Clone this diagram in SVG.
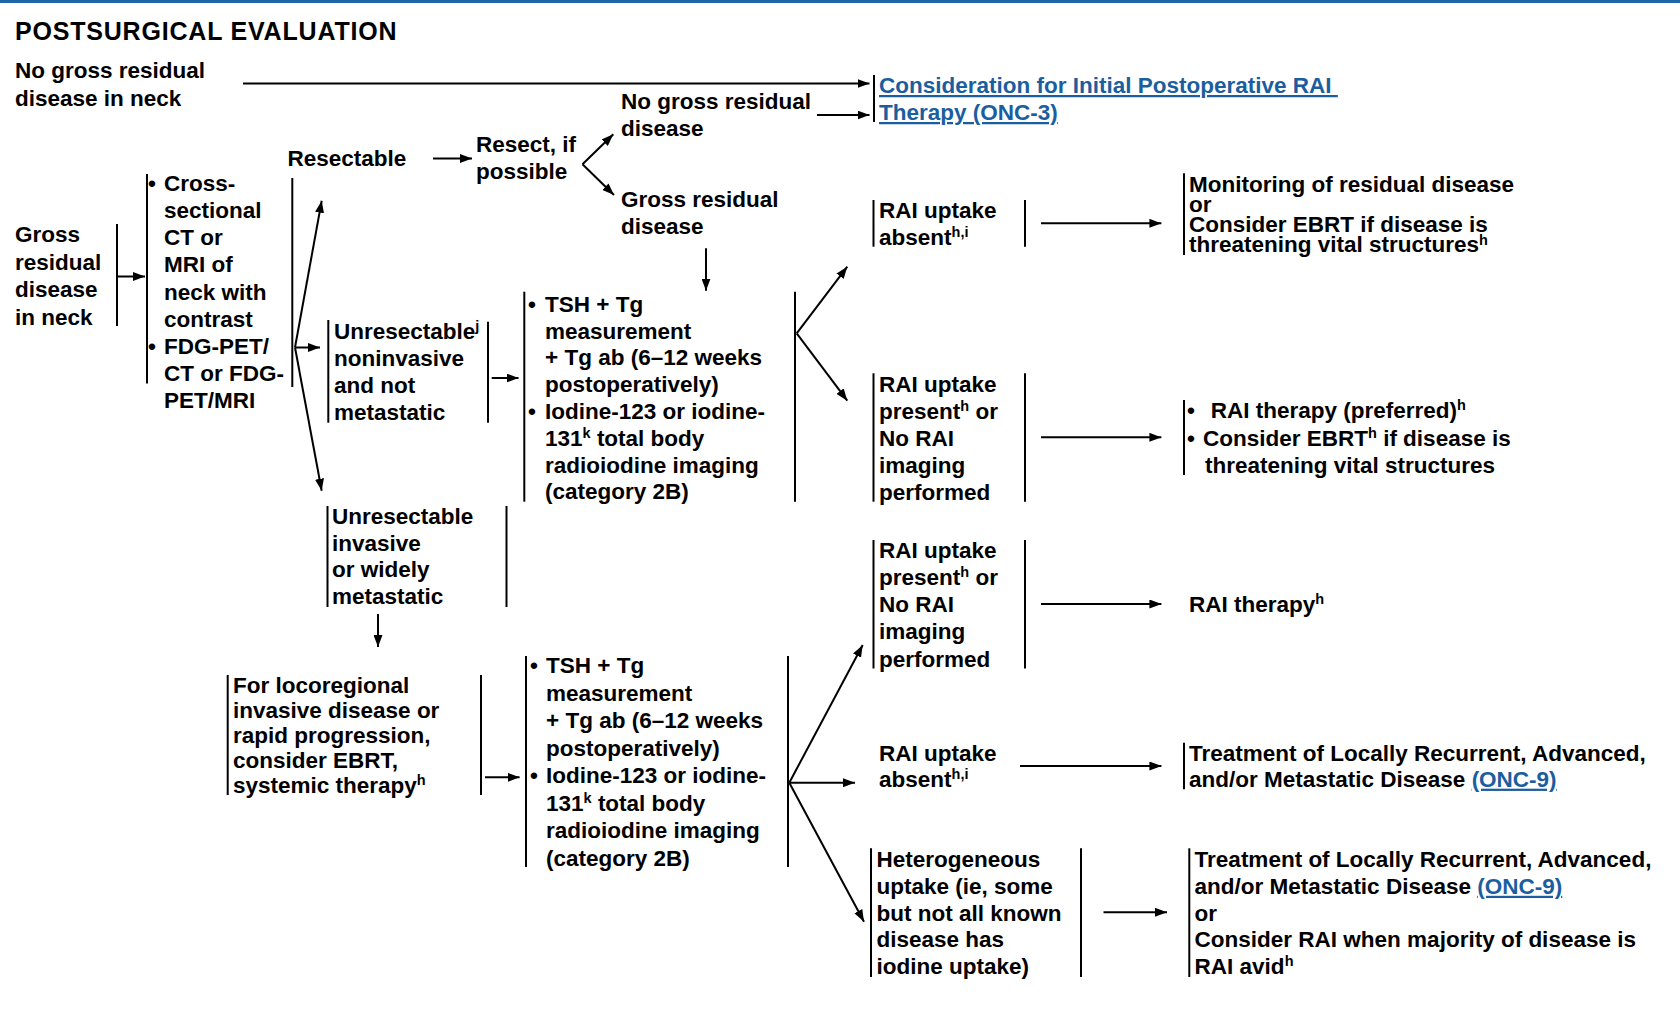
<svg xmlns="http://www.w3.org/2000/svg" width="1680" height="1018" viewBox="0 0 1680 1018">
<defs>
<style>
text { font-family: "Liberation Sans", Arial, Helvetica, sans-serif; font-weight: bold; font-size: 22.5px; fill: #000; }
.title { font-size: 25px; letter-spacing: 0.8px; }
.sup { font-size: 14.5px; }
.link { fill: #1b5e9f; text-decoration: underline; }
.br { stroke: #000; stroke-width: 2; fill: none; }
.ar { stroke: #000; stroke-width: 2; fill: none; marker-end: url(#ah); }
</style>
<marker id="ah" viewBox="0 0 12 9" refX="12" refY="4.5" markerWidth="12" markerHeight="9" markerUnits="userSpaceOnUse" orient="auto">
<path d="M0,0 L12,4.5 L0,9 z" fill="#000"/>
</marker>
</defs>
<rect width="1680" height="1018" fill="#fff"/>
<rect x="0" y="0" width="1680" height="3" fill="#1f66a6"/>

<g id="title">
<text class="title" x="15" y="40">POSTSURGICAL EVALUATION</text>
</g>

<g id="no-gross-neck">
<text><tspan x="15" y="78">No gross residual</tspan><tspan x="15" y="105.5">disease in neck</tspan></text>
</g>

<g id="consideration-rai">
<line class="br" x1="874" y1="75" x2="874" y2="122"/>
<text class="link"><tspan x="879" y="93">Consideration for Initial Postoperative RAI&#160;</tspan><tspan x="879" y="120">Therapy (ONC-3)</tspan></text>
</g>

<g id="gross-neck">
<text><tspan x="15" y="242">Gross</tspan><tspan x="15" y="269.5">residual</tspan><tspan x="15" y="297">disease</tspan><tspan x="15" y="324.5">in neck</tspan></text>
<line class="br" x1="117" y1="224" x2="117" y2="326"/>
</g>

<g id="imaging">
<line class="br" x1="147" y1="174" x2="147" y2="383.5"/>
<text><tspan x="148" y="190.7">•</tspan><tspan x="164" y="190.7">Cross-</tspan><tspan x="164" y="217.9">sectional</tspan><tspan x="164" y="245.1">CT or</tspan><tspan x="164" y="272.3">MRI of</tspan><tspan x="164" y="299.5">neck with</tspan><tspan x="164" y="326.7">contrast</tspan><tspan x="148" y="353.9">•</tspan><tspan x="164" y="353.9">FDG-PET/</tspan><tspan x="164" y="381.1">CT or FDG-</tspan><tspan x="164" y="408.3">PET/MRI</tspan></text>
<line class="br" x1="292.3" y1="178" x2="292.3" y2="387"/>
</g>

<g id="resectable">
<text x="287.5" y="165.5">Resectable</text>
</g>

<g id="resect">
<text><tspan x="476" y="151.7">Resect, if</tspan><tspan x="476" y="179">possible</tspan></text>
</g>

<g id="no-gross-disease">
<text><tspan x="621" y="109">No gross residual</tspan><tspan x="621" y="136">disease</tspan></text>
</g>

<g id="gross-disease">
<text><tspan x="621" y="207">Gross residual</tspan><tspan x="621" y="234">disease</tspan></text>
</g>

<g id="unresectable-noninvasive">
<line class="br" x1="328.3" y1="320" x2="328.3" y2="422.7"/>
<text><tspan x="334" y="339">Unresectable</tspan><tspan class="sup" dy="-8">j</tspan><tspan x="334" y="366">noninvasive</tspan><tspan x="334" y="393">and not</tspan><tspan x="334" y="420">metastatic</tspan></text>
<line class="br" x1="488" y1="321.7" x2="488" y2="422.7"/>
</g>

<g id="tsh-upper">
<line class="br" x1="524.3" y1="291.7" x2="524.3" y2="501.7"/>
<text><tspan x="528" y="311.7">•</tspan><tspan x="545" y="311.7">TSH + Tg</tspan><tspan x="545" y="338.5">measurement</tspan><tspan x="545" y="365.3">+ Tg ab (6–12 weeks</tspan><tspan x="545" y="392.1">postoperatively)</tspan><tspan x="528" y="418.9">•</tspan><tspan x="545" y="418.9">Iodine-123 or iodine-</tspan><tspan x="545" y="445.7">131</tspan><tspan class="sup" dy="-8">k</tspan><tspan dy="8"> total body</tspan><tspan x="545" y="472.5">radioiodine imaging</tspan><tspan x="545" y="499.3">(category 2B)</tspan></text>
<line class="br" x1="795" y1="291.7" x2="795" y2="501.7"/>
</g>

<g id="rai-absent-1">
<line class="br" x1="873.5" y1="200" x2="873.5" y2="246.7"/>
<text><tspan x="879" y="218.3">RAI uptake</tspan><tspan x="879" y="245">absent</tspan><tspan class="sup" dy="-8">h,i</tspan></text>
<line class="br" x1="1025" y1="200" x2="1025" y2="246.7"/>
</g>

<g id="monitoring">
<line class="br" x1="1184" y1="173.3" x2="1184" y2="255"/>
<text><tspan x="1189" y="191.7">Monitoring of residual disease</tspan><tspan x="1189" y="211.7">or</tspan><tspan x="1189" y="231.7">Consider EBRT if disease is</tspan><tspan x="1189" y="252">threatening vital structures</tspan><tspan class="sup" dy="-7">h</tspan></text>
</g>

<g id="rai-present-1">
<line class="br" x1="873.5" y1="373.3" x2="873.5" y2="501.7"/>
<text><tspan x="879" y="391.7">RAI uptake</tspan><tspan x="879" y="418.6">present</tspan><tspan class="sup" dy="-8">h</tspan><tspan dy="8"> or</tspan><tspan x="879" y="445.7">No RAI</tspan><tspan x="879" y="472.8">imaging</tspan><tspan x="879" y="500">performed</tspan></text>
<line class="br" x1="1025" y1="373.3" x2="1025" y2="501.7"/>
</g>

<g id="rai-therapy-preferred">
<line class="br" x1="1184" y1="400" x2="1184" y2="475"/>
<text><tspan x="1187" y="418.3">•</tspan><tspan x="1210.7" y="418.3">RAI therapy (preferred)</tspan><tspan class="sup" dy="-8">h</tspan><tspan x="1187" y="445.6">•</tspan><tspan x="1203" y="445.6">Consider EBRT</tspan><tspan class="sup" dy="-8">h</tspan><tspan dy="8"> if disease is</tspan><tspan x="1205" y="472.8">threatening vital structures</tspan></text>
</g>

<g id="unresectable-invasive">
<line class="br" x1="327.5" y1="506" x2="327.5" y2="607"/>
<text><tspan x="332" y="524">Unresectable</tspan><tspan x="332" y="550.7">invasive</tspan><tspan x="332" y="577.3">or widely</tspan><tspan x="332" y="604">metastatic</tspan></text>
<line class="br" x1="506.5" y1="506" x2="506.5" y2="607"/>
</g>

<g id="rai-present-2">
<line class="br" x1="873.5" y1="540" x2="873.5" y2="668.5"/>
<text><tspan x="879" y="558.3">RAI uptake</tspan><tspan x="879" y="585.2">present</tspan><tspan class="sup" dy="-8">h</tspan><tspan dy="8"> or</tspan><tspan x="879" y="612.3">No RAI</tspan><tspan x="879" y="639.4">imaging</tspan><tspan x="879" y="666.6">performed</tspan></text>
<line class="br" x1="1025" y1="540" x2="1025" y2="668.5"/>
</g>

<g id="rai-therapy">
<text x="1189" y="612"><tspan>RAI therapy</tspan><tspan class="sup" dy="-8">h</tspan></text>
</g>

<g id="locoregional">
<line class="br" x1="227.7" y1="675" x2="227.7" y2="795"/>
<text><tspan x="233" y="693.3">For locoregional</tspan><tspan x="233" y="718.3">invasive disease or</tspan><tspan x="233" y="743.3">rapid progression,</tspan><tspan x="233" y="768.3">consider EBRT,</tspan><tspan x="233" y="793">systemic therapy</tspan><tspan class="sup" dy="-8">h</tspan></text>
<line class="br" x1="481" y1="675" x2="481" y2="795"/>
</g>

<g id="tsh-lower">
<line class="br" x1="526" y1="656" x2="526" y2="867"/>
<text><tspan x="530" y="673.3">•</tspan><tspan x="546" y="673.3">TSH + Tg</tspan><tspan x="546" y="700.8">measurement</tspan><tspan x="546" y="728.3">+ Tg ab (6–12 weeks</tspan><tspan x="546" y="755.8">postoperatively)</tspan><tspan x="530" y="783.3">•</tspan><tspan x="546" y="783.3">Iodine-123 or iodine-</tspan><tspan x="546" y="810.8">131</tspan><tspan class="sup" dy="-8">k</tspan><tspan dy="8"> total body</tspan><tspan x="546" y="838.3">radioiodine imaging</tspan><tspan x="546" y="865.8">(category 2B)</tspan></text>
<line class="br" x1="788" y1="656" x2="788" y2="867"/>
</g>

<g id="rai-absent-2">
<text><tspan x="879" y="760.5">RAI uptake</tspan><tspan x="879" y="787">absent</tspan><tspan class="sup" dy="-8">h,i</tspan></text>
</g>

<g id="treatment-1">
<line class="br" x1="1184" y1="742.7" x2="1184" y2="789.3"/>
<text><tspan x="1189" y="760.7">Treatment of Locally Recurrent, Advanced,</tspan><tspan x="1189" y="786.7">and/or Metastatic Disease </tspan><tspan class="link">(ONC-9)</tspan></text>
</g>

<g id="heterogeneous">
<line class="br" x1="871" y1="848.3" x2="871" y2="977"/>
<text><tspan x="876.5" y="867">Heterogeneous</tspan><tspan x="876.5" y="893.8">uptake (ie, some</tspan><tspan x="876.5" y="920.6">but not all known</tspan><tspan x="876.5" y="947.4">disease has</tspan><tspan x="876.5" y="974.2">iodine uptake)</tspan></text>
<line class="br" x1="1081" y1="848.3" x2="1081" y2="977"/>
</g>

<g id="treatment-2">
<line class="br" x1="1189.3" y1="848.3" x2="1189.3" y2="977"/>
<text><tspan x="1194.6" y="867">Treatment of Locally Recurrent, Advanced,</tspan><tspan x="1194.6" y="893.8">and/or Metastatic Disease </tspan><tspan class="link">(ONC-9)</tspan><tspan x="1194.6" y="920.6">or</tspan><tspan x="1194.6" y="947.4">Consider RAI when majority of disease is</tspan><tspan x="1194.6" y="974.2">RAI avid</tspan><tspan class="sup" dy="-8">h</tspan></text>
</g>

<g id="connectors">
<path class="ar" d="M243,83.5 H869.5"/>
<path class="ar" d="M817,115 H869.5"/>
<path class="ar" d="M433,158.5 H472"/>
<path class="ar" d="M582.5,164.3 L613.3,134.3"/>
<path class="ar" d="M582.5,164.3 L614,195"/>
<path class="ar" d="M706,248.3 V290.7"/>
<path class="ar" d="M118,276.5 H145"/>
<path class="ar" d="M295,347.5 L321.7,200.7"/>
<path class="ar" d="M295,347.5 H320"/>
<path class="ar" d="M295,347.5 L321.7,490.7"/>
<path class="ar" d="M491.7,378 H518.5"/>
<path class="ar" d="M796.7,333.3 L847.3,266.7"/>
<path class="ar" d="M796.7,333.3 L847.3,400.7"/>
<path class="ar" d="M1041,223.3 H1161.4"/>
<path class="ar" d="M1041,437.3 H1161.4"/>
<path class="ar" d="M1041,604 H1161.4"/>
<path class="ar" d="M378,614 V647"/>
<path class="ar" d="M485,777.3 H519.6"/>
<path class="ar" d="M789.3,782.7 L862.7,645"/>
<path class="ar" d="M789.3,782.7 H855"/>
<path class="ar" d="M789.3,782.7 L864,921.7"/>
<path class="ar" d="M1020,766 H1161.4"/>
<path class="ar" d="M1103.5,912.3 H1167"/>
</g>
</svg>
